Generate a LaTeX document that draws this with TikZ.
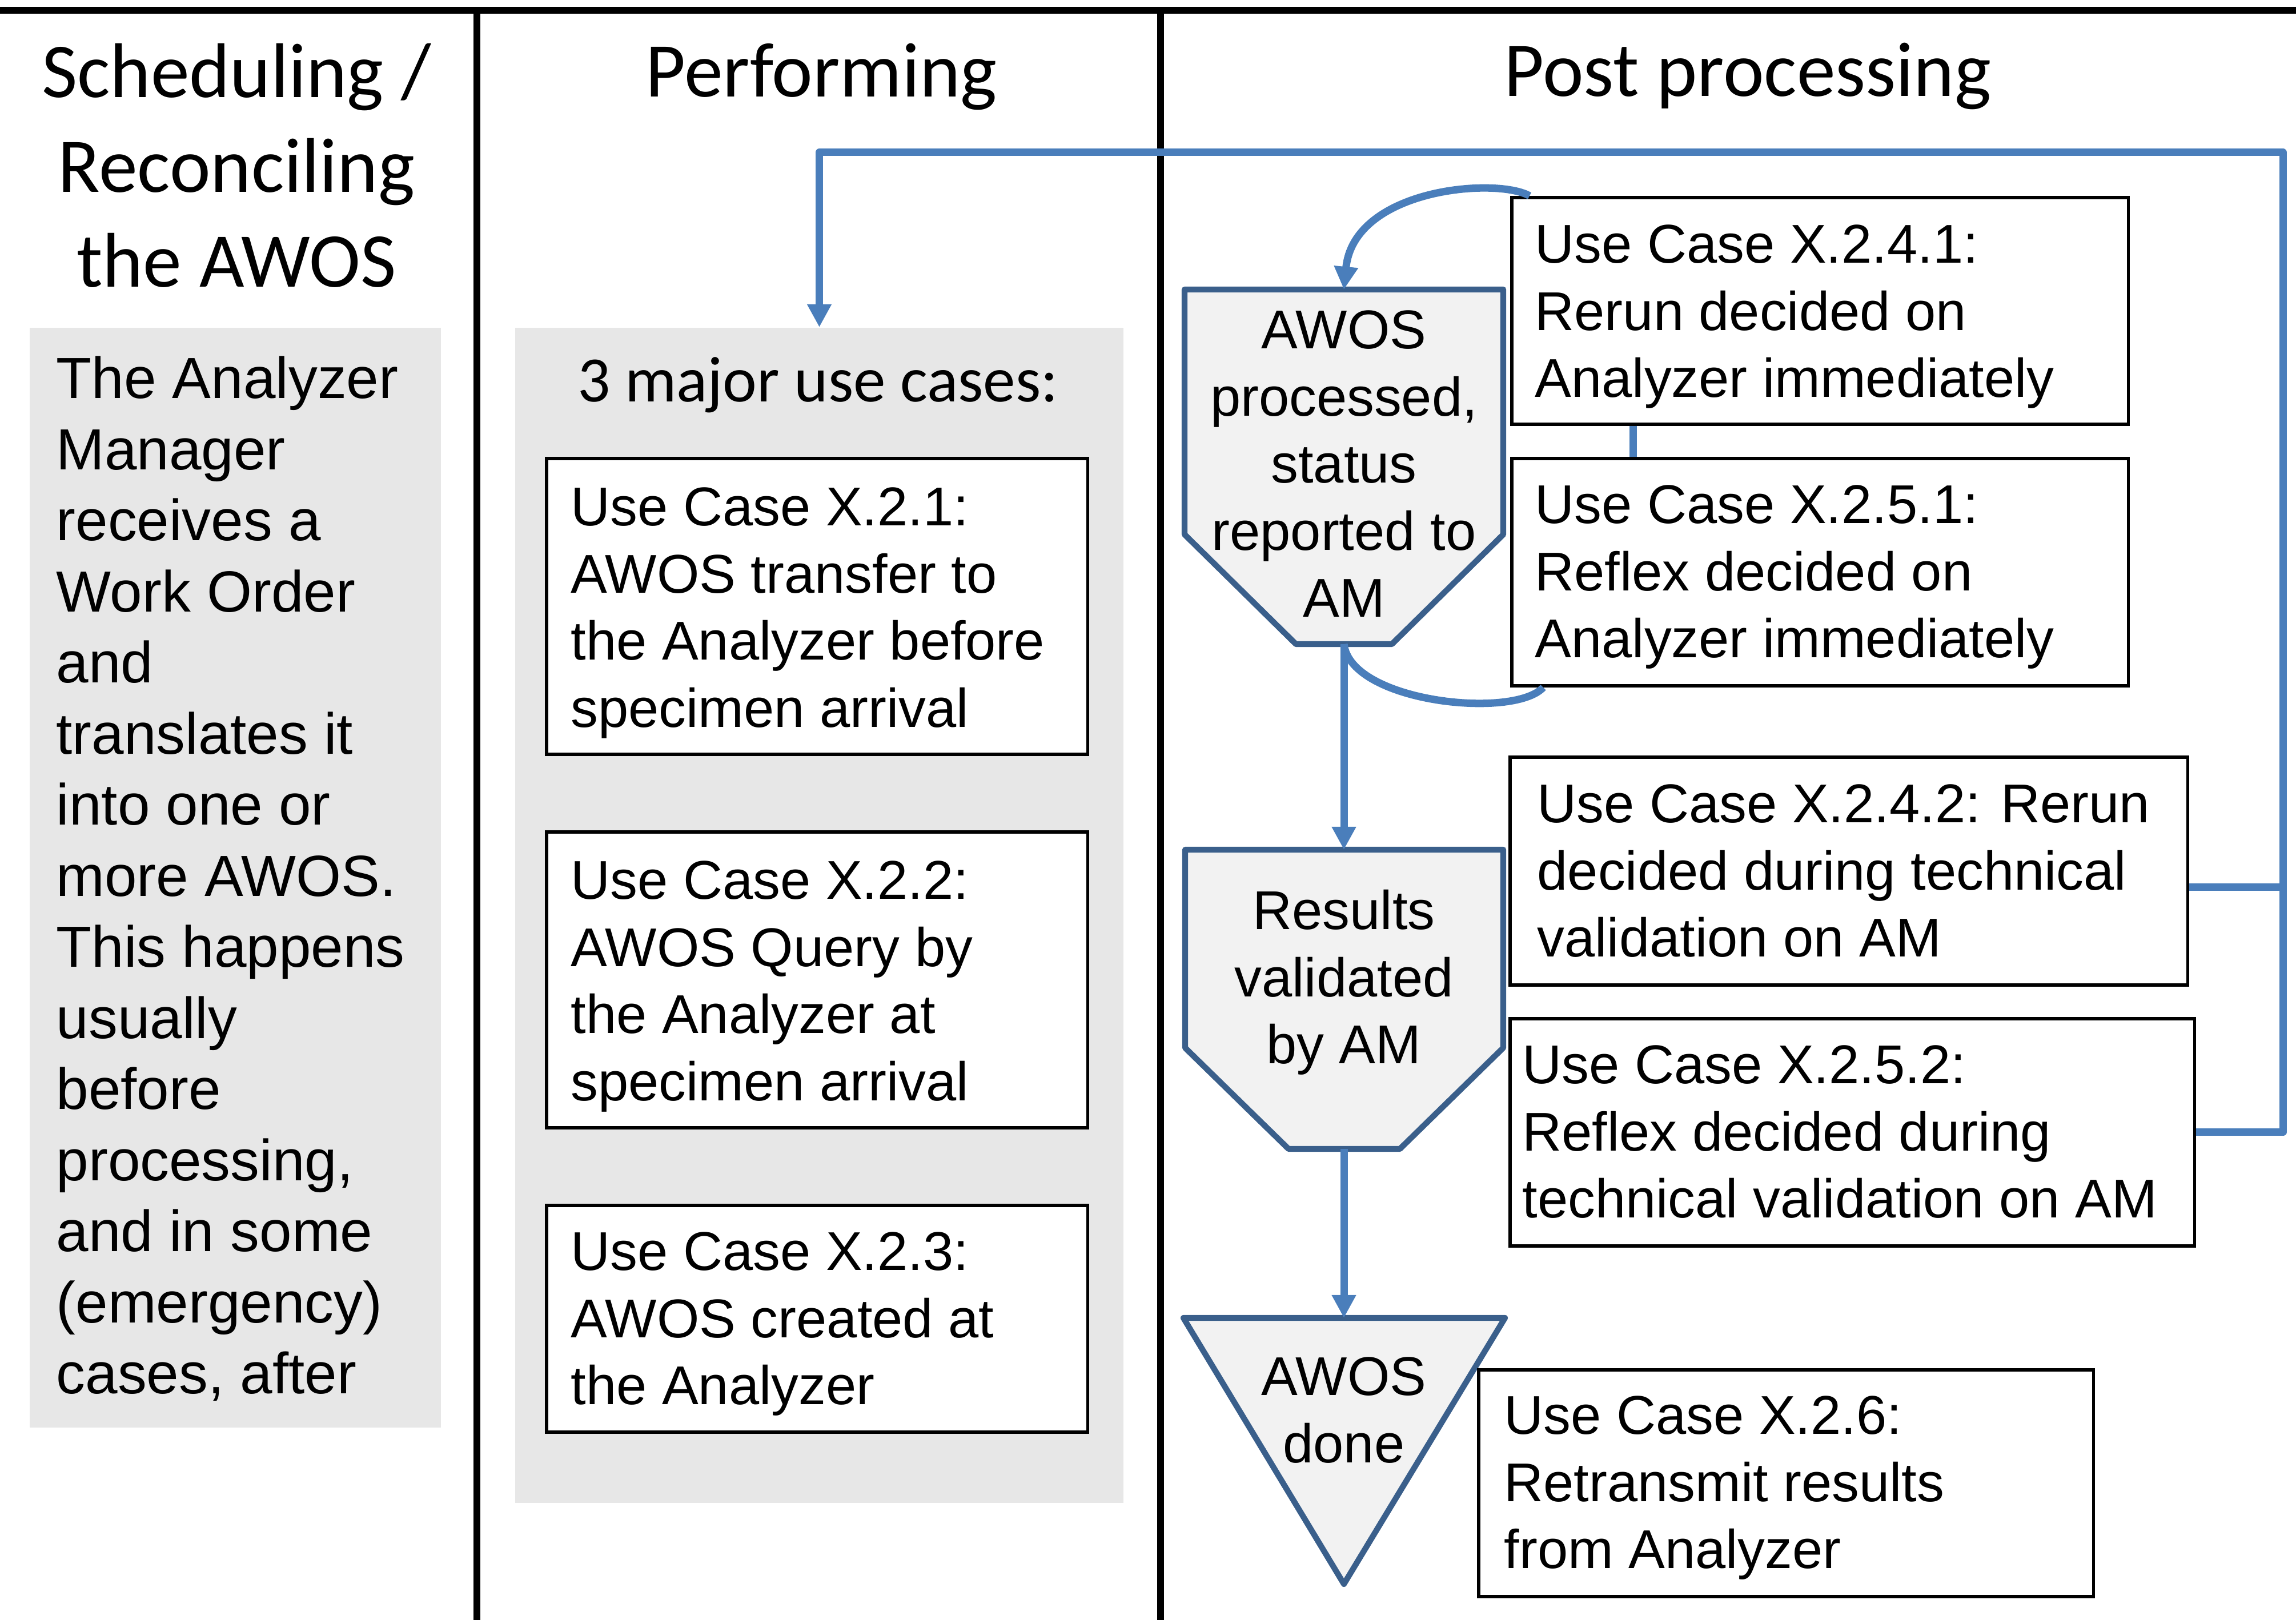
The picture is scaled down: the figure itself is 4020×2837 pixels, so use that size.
\documentclass[tikz,border=0pt]{standalone}
\usepackage{fontspec}
\setmainfont{Liberation Sans}
\newfontfamily\calib{Carlito}
\usetikzlibrary{arrows.meta,calc}
\definecolor{connblue}{HTML}{4A7EBB}
\definecolor{pentline}{HTML}{3A5F8B}
\definecolor{pentfill}{HTML}{F2F2F2}
\definecolor{panelgray}{HTML}{E7E7E7}
\newcommand\topst[1]{\rule{0pt}{#1}}
\tikzset{
 panelbox/.style={fill=panelgray, draw=none, inner sep=0, anchor=north west},
 ucbox/.style={draw=black, line width=1.6pt, fill=white, inner sep=0, anchor=north west},
 uctext/.style={inner sep=0, anchor=north west, align=left, font=\fontsize{27.2}{33.4}\selectfont},
 ctext/.style={inner sep=0, anchor=north, align=center, font=\fontsize{27.2}{33.4}\selectfont},
 head/.style={inner sep=0, anchor=base, font=\calib\fontsize{38.6}{47.2}\selectfont},
 conn/.style={draw=connblue, line width=3.7pt, line join=round},
 connarrow/.style={conn, -{Triangle[length=0.4cm, width=0.4cm]}},
 shapeline/.style={draw=pentline, fill=pentfill, line width=2.9pt, line join=round},
 colline/.style={draw=black, line width=3.2pt},
}
\begin{document}
\begin{tikzpicture}[x=0.01cm,y=-0.01cm]
\useasboundingbox (0,0) rectangle (4020,2837);
% grey panels
\node[panelbox, minimum width=7.20cm, minimum height=19.25cm] (left) at (51,573) {};
\node[panelbox, minimum width=10.65cm, minimum height=20.57cm] (mid) at (901,573) {};
% column lines
\draw[colline] (0,18) -- (4020,18);
\draw[colline] (835,18) -- (835,2837);
\draw[colline] (2032,18) -- (2032,2837);
% headers
\node[head, anchor=north, align=center] (h1) at (414,64.6) {\topst{30pt}Scheduling /\\Reconciling\\the AWOS};
\node[head] (h2) at (1438,170) {Performing};
\node[head] (h3) at (3060,169) {Post processing};
% left text
\node[inner sep=0, anchor=north west, align=left, font=\fontsize{28.9}{35.4}\selectfont] (lt) at (98,619.7)
 {\topst{22pt}The Analyzer\\Manager\\receives a\\Work Order\\and\\translates it\\into one or\\more AWOS.\\This happens\\usually\\before\\processing,\\and in some\\(emergency)\\cases, after};
% middle column
\node[inner sep=0, anchor=base, font=\calib\fontsize{32.2}{39}\selectfont] (muc) at (1432,704) {3 major use cases:};
\node[ucbox, minimum width=9.47cm, minimum height=5.18cm] (u21) at (954,800) {};
\node[uctext] (u21t) at (999,849.7) {\topst{20pt}Use Case X.2.1:\\AWOS transfer to\\the Analyzer before\\specimen arrival};
\node[ucbox, minimum width=9.47cm, minimum height=5.18cm] (u22) at (954,1454) {};
\node[uctext] (u22t) at (999,1503.7) {\topst{20pt}Use Case X.2.2:\\AWOS Query by\\the Analyzer at\\specimen arrival};
\node[ucbox, minimum width=9.47cm, minimum height=3.97cm] (u23) at (954,2108) {};
\node[uctext] (u23t) at (999,2153.7) {\topst{20pt}Use Case X.2.3:\\AWOS created at\\the Analyzer};
% flow shapes
\draw[shapeline] (2074,507) -- (2632,507) -- (2632,936) -- (2437,1128) -- (2269,1128) -- (2074,936) -- cycle;
\coordinate (p1top) at (2353,507);
\coordinate (p1bot) at (2353,1128);
\draw[shapeline] (2075,1488) -- (2632,1488) -- (2632,1835) -- (2451,2012) -- (2256,2012) -- (2075,1835) -- cycle;
\coordinate (p2top) at (2353,1488);
\coordinate (p2bot) at (2353,2012);
\draw[shapeline] (2072,2308) -- (2635,2308) -- (2353,2774) -- cycle;
\coordinate (tritop) at (2353,2308);
\node[ctext] (p1) at (2353,539.7) {\topst{20pt}AWOS\\processed,\\status\\reported to\\AM};
\node[ctext] (p2) at (2353,1556.7) {\topst{20pt}Results\\validated\\by AM};
\node[ctext] (tri) at (2353,2372.7) {\topst{20pt}AWOS\\done};
% right use case boxes
\node[ucbox, minimum width=10.79cm, minimum height=3.97cm] (u241) at (2644,343) {};
\node[uctext] (u241t) at (2687,389.7) {\topst{20pt}Use Case X.2.4.1:\\Rerun decided on\\Analyzer immediately};
\node[ucbox, minimum width=10.79cm, minimum height=3.98cm] (u251) at (2644,800) {};
\node[uctext] (u251t) at (2687,845.7) {\topst{20pt}Use Case X.2.5.1:\\Reflex decided on\\Analyzer immediately};
\node[ucbox, minimum width=11.86cm, minimum height=3.99cm] (u242) at (2641,1323) {};
\node[uctext] (u242t) at (2691,1369.7) {\topst{20pt}Use Case X.2.4.2: Rerun\\decided during technical\\validation on AM};
\node[ucbox, minimum width=11.98cm, minimum height=3.98cm] (u252) at (2641,1781) {};
\node[uctext] (u252t) at (2665,1826.7) {\topst{20pt}Use Case X.2.5.2:\\Reflex decided during\\technical validation on AM};
\node[ucbox, minimum width=10.76cm, minimum height=3.97cm] (u26) at (2586,2396) {};
\node[uctext] (u26t) at (2633,2440.7) {\topst{20pt}Use Case X.2.6:\\Retransmit results\\from Analyzer};
% connectors
\coordinate (railT) at (3997,267);
\draw[connarrow] (u252.east) -- (u252.east -| railT) -- (railT) -- (railT -| mid.north) -- (mid.north);
\draw[conn] ($(u242.east)+(0,28.5)$) -- ($(u242.east -| railT)+(0,28.5)$);
\draw[connarrow] (p1bot) -- (p2top);
\draw[connarrow] (p2bot) -- (tritop);
\draw[connarrow] ($(u241.north west)+(34,0)$) .. controls (2620,310) and (2370,330) .. (p1top);
\draw[conn] (p1bot) .. controls (2365,1230) and (2650,1260) .. ($(u251.south west)+(58,0)$);
\draw[conn] ($(u241.south west)+(215,0)$) -- ($(u251.north west)+(215,0)$);
\end{tikzpicture}
\end{document}
